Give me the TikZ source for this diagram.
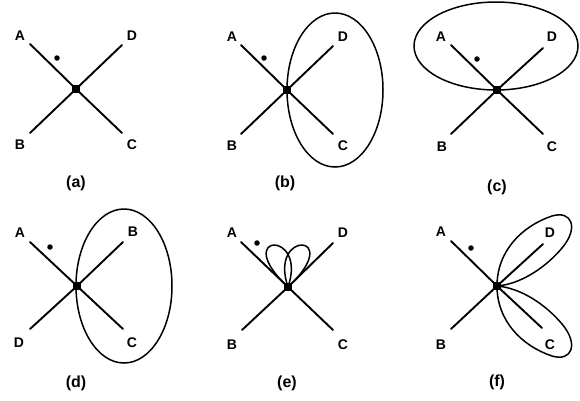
\documentclass[tikz,border=0pt]{standalone}
\usepackage{fontspec}
\setmainfont{Liberation Sans}
\tikzset{
  every picture/.style={line width=1.8pt},
  arm/.style={line width=1.9pt, line cap=round},
  ring/.style={line width=1.5pt},
  hub/.style={fill, rectangle, inner sep=0pt, minimum size=8pt},
  spot/.style={fill, circle, inner sep=0pt, minimum size=5.5pt},
  lbl/.style={font=\fontsize{14}{16}\selectfont\bfseries, inner sep=0pt},
  caption/.style={font=\fontsize{16}{18}\selectfont\bfseries, inner sep=0pt},
}
\begin{document}
\begin{tikzpicture}[x=1pt, y=-1pt]
  \useasboundingbox (0,0) rectangle (580,400);

  % (a) plain vertex
  \begin{scope}[shift={(76,89)}]
    \node[hub] (aO) at (0,0) {};
    \coordinate (aA) at (-46,-45);
    \coordinate (aD) at (46,-44);
    \coordinate (aB) at (-46,44);
    \coordinate (aC) at (46,44);
    \draw[arm] (aA) -- (aO.center) -- (aC);
    \draw[arm] (aB) -- (aO.center) -- (aD);
    \node[spot] (aS) at (-19,-31) {};
    \node[lbl] (aLA) at (-56,-53) {A};
    \node[lbl] (aLD) at (56,-53) {D};
    \node[lbl] (aLB) at (-56,56) {B};
    \node[lbl] (aLC) at (56,56) {C};
    \node[caption] (aCap) at (0,94) {(a)};
  \end{scope}

  % (b) ellipse round C and D
  \begin{scope}[shift={(287,90)}]
    \node[hub] (bO) at (0,0) {};
    \coordinate (bA) at (-46,-45);
    \coordinate (bD) at (46,-44);
    \coordinate (bB) at (-46,44);
    \coordinate (bC) at (46,44);
    \draw[arm] (bA) -- (bO.center) -- (bC);
    \draw[arm] (bB) -- (bO.center) -- (bD);
    \draw[ring] (48,0) ellipse [x radius=48, y radius=77];
    \node[spot] (bS) at (-23,-32) {};
    \node[lbl] (bLA) at (-55,-53) {A};
    \node[lbl] (bLD) at (56,-53) {D};
    \node[lbl] (bLB) at (-55,56) {B};
    \node[lbl] (bLC) at (56,56) {C};
    \node[caption] (bCap) at (-2,93) {(b)};
  \end{scope}

  % (c) ellipse round A and D
  \begin{scope}[shift={(497,90)}]
    \node[hub] (cO) at (0,0) {};
    \coordinate (cA) at (-46,-45);
    \coordinate (cD) at (46,-42);
    \coordinate (cB) at (-46,44);
    \coordinate (cC) at (46,44);
    \draw[arm] (cA) -- (cO.center) -- (cC);
    \draw[arm] (cB) -- (cO.center) -- (cD);
    \draw[ring] (-1,-44) ellipse [x radius=82, y radius=44];
    \node[spot] (cS) at (-20,-31) {};
    \node[lbl] (cLA) at (-56,-53) {A};
    \node[lbl] (cLD) at (55,-53) {D};
    \node[lbl] (cLB) at (-55,57) {B};
    \node[lbl] (cLC) at (55,57) {C};
    \node[caption] (cCap) at (0,97) {(c)};
  \end{scope}

  % (d) ellipse round B and C
  \begin{scope}[shift={(77,286)}]
    \node[hub] (dO) at (0,0) {};
    \coordinate (dA) at (-47,-44);
    \coordinate (dB) at (46,-44);
    \coordinate (dD) at (-47,43);
    \coordinate (dC) at (46,43);
    \draw[arm] (dA) -- (dO.center) -- (dC);
    \draw[arm] (dD) -- (dO.center) -- (dB);
    \draw[ring] (47,0) ellipse [x radius=48, y radius=77];
    \node[spot] (dS) at (-27,-39) {};
    \node[lbl] (dLA) at (-57,-53) {A};
    \node[lbl] (dLB) at (56,-54) {B};
    \node[lbl] (dLD) at (-58,57) {D};
    \node[lbl] (dLC) at (55,57) {C};
    \node[caption] (dCap) at (-1,97) {(d)};
  \end{scope}

  % (e) two small loops
  \begin{scope}[shift={(288,287)}]
    \node[hub] (eO) at (0,0) {};
    \coordinate (eA) at (-47,-45);
    \coordinate (eD) at (45,-44);
    \coordinate (eB) at (-46,43);
    \coordinate (eC) at (45,43);
    \draw[arm] (eA) -- (eO.center) -- (eC);
    \draw[arm] (eB) -- (eO.center) -- (eD);
    \draw[ring] (eO.center) .. controls (-58,-54) and (20,-58) .. (eO.center);
    \draw[ring] (eO.center) .. controls (-20,-58) and (58,-54) .. (eO.center);
    \node[spot] (eS) at (-31,-44) {};
    \node[lbl] (eLA) at (-56,-54) {A};
    \node[lbl] (eLD) at (55,-54) {D};
    \node[lbl] (eLB) at (-56,58) {B};
    \node[lbl] (eLC) at (55,58) {C};
    \node[caption] (eCap) at (-1,96) {(e)};
  \end{scope}

  % (f) loops round D and C
  \begin{scope}[shift={(497,286)}]
    \node[hub] (fO) at (0,0) {};
    \coordinate (fA) at (-46,-45);
    \coordinate (fD) at (46,-42);
    \coordinate (fB) at (-46,43);
    \coordinate (fC) at (45,42);
    \draw[arm] (fA) -- (fO.center) -- (fC);
    \draw[arm] (fB) -- (fO.center) -- (fD);
    \draw[ring] (fO.center) .. controls (0,-35) and (25,-60) .. (55,-70)
      .. controls (75,-76) and (82,-58) .. (65,-38)
      .. controls (50,-20) and (25,-2) .. (fO.center);
    \draw[ring] (fO.center) .. controls (0,35) and (25,60) .. (55,70)
      .. controls (75,76) and (82,58) .. (65,38)
      .. controls (50,20) and (25,2) .. (fO.center);
    \node[spot] (fS) at (-26,-38) {};
    \node[lbl] (fLA) at (-56,-54) {A};
    \node[lbl] (fLD) at (53,-53) {D};
    \node[lbl] (fLB) at (-56,59) {B};
    \node[lbl] (fLC) at (53,59) {C};
    \node[caption] (fCap) at (0,96) {(f)};
  \end{scope}
\end{tikzpicture}
\end{document}
